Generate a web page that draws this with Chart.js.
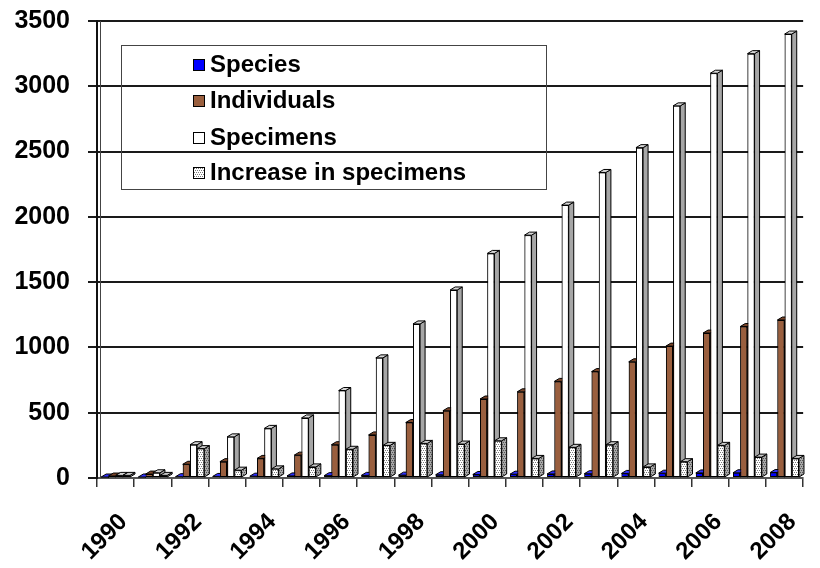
<!DOCTYPE html>
<html>
<head>
<meta charset="utf-8">
<script src="https://cdn.jsdelivr.net/npm/chart.js@4.4.1/dist/chart.umd.min.js"></script>
<style>
  body { margin: 0; overflow: hidden; background: #fff; }
  #wrap { position: relative; width: 826px; height: 568px; }
  #legend { position: absolute; left: 121px; top: 45px; width: 424px; height: 143px;
            border: 1.5px solid #444; font: bold 24px "Liberation Sans", Arial, sans-serif; color: #000; }
  .row { position: absolute; left: 71px; height: 30px; line-height: 30px; white-space: nowrap; }
  .sw { display: inline-block; width: 10px; height: 10px; border: 1.5px solid #000; margin-right: 5px; vertical-align: 1px; }
</style>
</head>
<body>
<div id="wrap">
  <canvas id="chart" width="826" height="568"></canvas>
  <div id="legend"></div>
</div>
<script>
// values
const years = ['1990','1991','1992','1993','1994','1995','1996','1997','1998','1999',
               '2000','2001','2002','2003','2004','2005','2006','2007','2008'];
const species     = [5, 7, 10, 12, 14, 16, 18, 20, 22, 25, 27, 29, 31, 33, 35, 37, 39, 40, 42];
const individuals = [15, 30, 105, 125, 150, 175, 255, 330, 425, 515, 605, 660, 740, 815, 890, 1010, 1110, 1160, 1210];
const specimens   = [20, 40, 255, 315, 380, 460, 670, 920, 1180, 1440, 1720, 1860, 2090, 2340, 2530, 2850, 3100, 3250, 3400];
const increase    = [20, 20, 225, 60, 70, 85, 220, 250, 265, 260, 285, 150, 235, 255, 85, 125, 250, 160, 150];
const yTicks = [0, 500, 1000, 1500, 2000, 2500, 3000, 3500];

const FONT = '"Liberation Sans", Arial, sans-serif';

// speckled fill for "Increase in specimens"
function dots(bg, fg) {
    const c = document.createElement('canvas');
    c.width = 4; c.height = 4;
    const g = c.getContext('2d');
    g.fillStyle = bg; g.fillRect(0, 0, 4, 4);
    g.fillStyle = fg;
    g.fillRect(0, 0, 1, 1); g.fillRect(2, 0, 1, 1);
    g.fillRect(1, 2, 1, 1); g.fillRect(3, 2, 1, 1);
    return c;
}
const ctx0 = document.getElementById('chart').getContext('2d');
const dotTile = dots('#ffffff', '#7a7a7a');
const dotFront = ctx0.createPattern(dotTile, 'repeat');
const dotSide = ctx0.createPattern(dots('#a8a8a8', '#555555'), 'repeat');

const series = [
    { label: 'Species', data: species, bg: '#0000ff', side: '#000090', top: '#3030ff' },
    { label: 'Individuals', data: individuals, bg: '#9a5f3e', side: '#5e3520', top: '#7a4529' },
    { label: 'Specimens', data: specimens, bg: '#ffffff', side: '#a6a6a6', top: '#d8d8d8' },
    { label: 'Increase in specimens', data: increase, bg: dotFront, side: dotSide, top: '#c8c8c8' }
];

// side + top faces so the bars look like the 3D columns
const depth = {
    id: 'depth',
    beforeDatasetsDraw(chart) {
        const a = chart.chartArea, c = chart.ctx;
        c.save();
        c.strokeStyle = '#444';
        c.lineWidth = 1;
        c.beginPath();
        c.moveTo(a.left + 3.5, a.top);
        c.lineTo(a.left + 3.5, a.bottom);
        c.stroke();
        c.restore();
    },
    afterDatasetsDraw(chart) {
        const c = chart.ctx;
        const dx = 5, dy = 3;
        chart.data.datasets.forEach((ds, i) => {
            chart.getDatasetMeta(i).data.forEach(bar => {
                const p = bar.getProps(['x', 'y', 'base', 'width'], true);
                const l = p.x - p.width / 2, r = p.x + p.width / 2;
                const t = Math.min(p.y, p.base), b = Math.max(p.y, p.base);
                c.save();
                c.lineWidth = 1;
                c.strokeStyle = '#000';
                c.beginPath();
                c.moveTo(r, t); c.lineTo(r + dx, t - dy); c.lineTo(r + dx, b - dy); c.lineTo(r, b);
                c.closePath();
                c.fillStyle = series[i].side; c.fill(); c.stroke();
                c.beginPath();
                c.moveTo(l, t); c.lineTo(l + dx, t - dy); c.lineTo(r + dx, t - dy); c.lineTo(r, t);
                c.closePath();
                c.fillStyle = series[i].top; c.fill(); c.stroke();
                c.restore();
                bar.draw(c);
            });
        });
    }
};

new Chart(document.getElementById('chart'), {
    type: 'bar',
    data: {
        labels: years,
        datasets: series.map(s => ({
            label: s.label,
            data: s.data,
            backgroundColor: s.bg,
            borderColor: '#000',
            borderWidth: 1,
            borderSkipped: false,
            categoryPercentage: 0.78,
            barPercentage: 0.98
        }))
    },
    options: {
        responsive: false,
        animation: false,
        layout: { padding: { top: 21, right: 3, left: 0, bottom: 0 } },
        plugins: { legend: { display: false }, tooltip: { enabled: false } },
        scales: {
            x: {
                grid: { offset: true, drawOnChartArea: false, drawTicks: true, tickLength: 9, color: '#333', lineWidth: 1.5 },
                border: { color: '#555', width: 2 },
                ticks: {
                    autoSkip: false, maxRotation: 45, minRotation: 45, padding: 21, labelOffset: 8, color: '#000',
                    font: { family: FONT, size: 24, weight: 'bold' },
                    callback: (v, i) => (i % 2 === 0 ? years[i] : '')
                },
                afterFit: s => { s.height = 90; }
            },
            y: {
                min: 0, max: 3500,
                afterBuildTicks: s => { s.ticks = yTicks.map(v => ({ value: v })); },
                grid: { color: '#1a1a1a', lineWidth: 2, tickLength: 9 },
                border: { color: '#111', width: 2 },
                ticks: {
                    padding: 18, color: '#000',
                    font: { family: FONT, size: 25, weight: 'bold' },
                    callback: v => String(v)
                },
                afterFit: s => { s.width = 97; s.paddingTop = 12; s.paddingBottom = 12; }
            }
        }
    },
    plugins: [depth]
});

// legend box drawn inside the plot, transparent like the original
const lg = document.getElementById('legend');
const rowTops = [3, 39, 76, 111];
series.forEach((s, i) => {
    const row = document.createElement('div');
    row.className = 'row';
    row.style.top = rowTops[i] + 'px';
    const sw = document.createElement('span');
    sw.className = 'sw';
    if (i === 3) sw.style.backgroundImage = 'url(' + dotTile.toDataURL() + ')';
    else sw.style.background = s.bg;
    row.appendChild(sw);
    row.appendChild(document.createTextNode(s.label));
    lg.appendChild(row);
});
</script>
</body>
</html>
